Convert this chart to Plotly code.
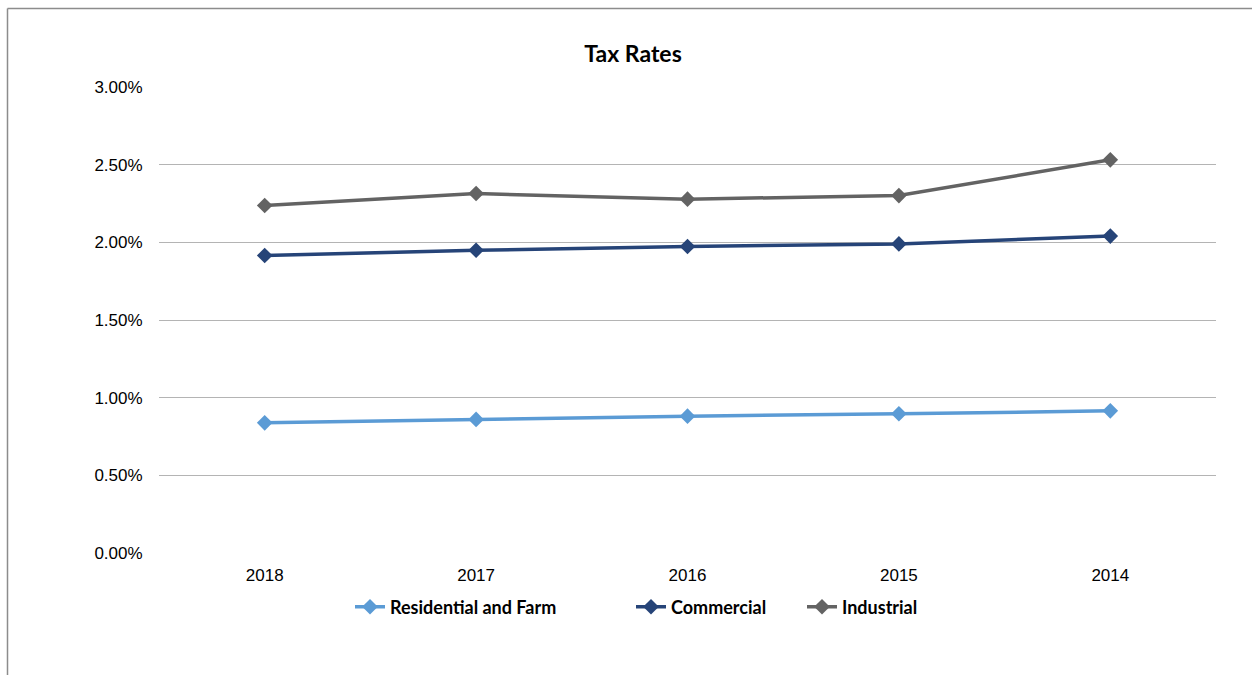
import plotly.graph_objects as go

years = ["2018", "2017", "2016", "2015", "2014"]
residential_farm = [0.00838, 0.00860, 0.00881, 0.00896, 0.00915]
commercial = [0.01915, 0.01949, 0.01973, 0.01990, 0.02040]
industrial = [0.02237, 0.02314, 0.02278, 0.02301, 0.02531]

series_names = ["Residential and Farm", "Commercial", "Industrial"]
series_values = [residential_farm, commercial, industrial]
series_colors = ["#5B9BD5", "#264478", "#636363"]

W, H = 1252, 675
L, R, T, B = 159, 36, 87, 122
ph = H - T - B
pw = W - L - R


def px_to_paper_x(px):
    return (px - L) / pw


def px_to_paper_y(py):
    return (H - B - py) / ph


# each series gets its own legend box so entries sit where they belong
legend_left_px = [350, 631, 802]
legend_ids = ["legend", "legend2", "legend3"]

fig = go.Figure()
for name, vals, color, lid in zip(series_names, series_values, series_colors, legend_ids):
    fig.add_trace(go.Scatter(
        x=years, y=vals, name=f"<b>{name}</b>", mode="lines+markers",
        line=dict(color=color, width=3.5),
        marker=dict(symbol="diamond", size=12, color=color),
        legend=lid,
    ))

# chart frame (left and top edges)
frame = dict(color="#8C8C8C", width=1.5)
fig.add_shape(type="line", xref="paper", yref="paper",
              x0=px_to_paper_x(7.5), x1=px_to_paper_x(W + 5),
              y0=px_to_paper_y(8.5), y1=px_to_paper_y(8.5), line=frame)
fig.add_shape(type="line", xref="paper", yref="paper",
              x0=px_to_paper_x(7.5), x1=px_to_paper_x(7.5),
              y0=px_to_paper_y(8.5), y1=px_to_paper_y(H + 5), line=frame)

legend_font = dict(family="Lato", size=18, color="#000000")
legend_common = dict(orientation="h", xanchor="left", yanchor="middle",
                     y=px_to_paper_y(607), font=legend_font, itemwidth=30,
                     bgcolor="rgba(0,0,0,0)")

fig.update_layout(
    width=W, height=H,
    margin=dict(l=L, r=R, t=T, b=B),
    paper_bgcolor="white", plot_bgcolor="white",
    title=dict(text="<b>Tax Rates</b>", x=633 / W, xref="container", xanchor="center",
               y=1 - 54 / H, yanchor="middle",
               font=dict(family="Lato", size=23, color="#000000")),
    xaxis=dict(type="category", range=[-0.5, 4.5], showgrid=False, showline=False,
               zeroline=False, ticks="",
               tickfont=dict(family="Liberation Sans", size=17, color="#000000"),
               ticklabelstandoff=10),
    yaxis=dict(range=[0, 0.03], dtick=0.005, tickformat=".2%",
               showgrid=True, gridcolor="#B4B4B4", gridwidth=1.3,
               zeroline=False, showline=False,
               ticks="outside", ticklen=12, tickcolor="rgba(0,0,0,0)",
               tickfont=dict(family="Liberation Sans", size=17, color="#000000")),
    legend=dict(x=px_to_paper_x(legend_left_px[0]), **legend_common),
    legend2=dict(x=px_to_paper_x(legend_left_px[1]), **legend_common),
    legend3=dict(x=px_to_paper_x(legend_left_px[2]), **legend_common),
    showlegend=True,
)

fig.write_html("out.html")
